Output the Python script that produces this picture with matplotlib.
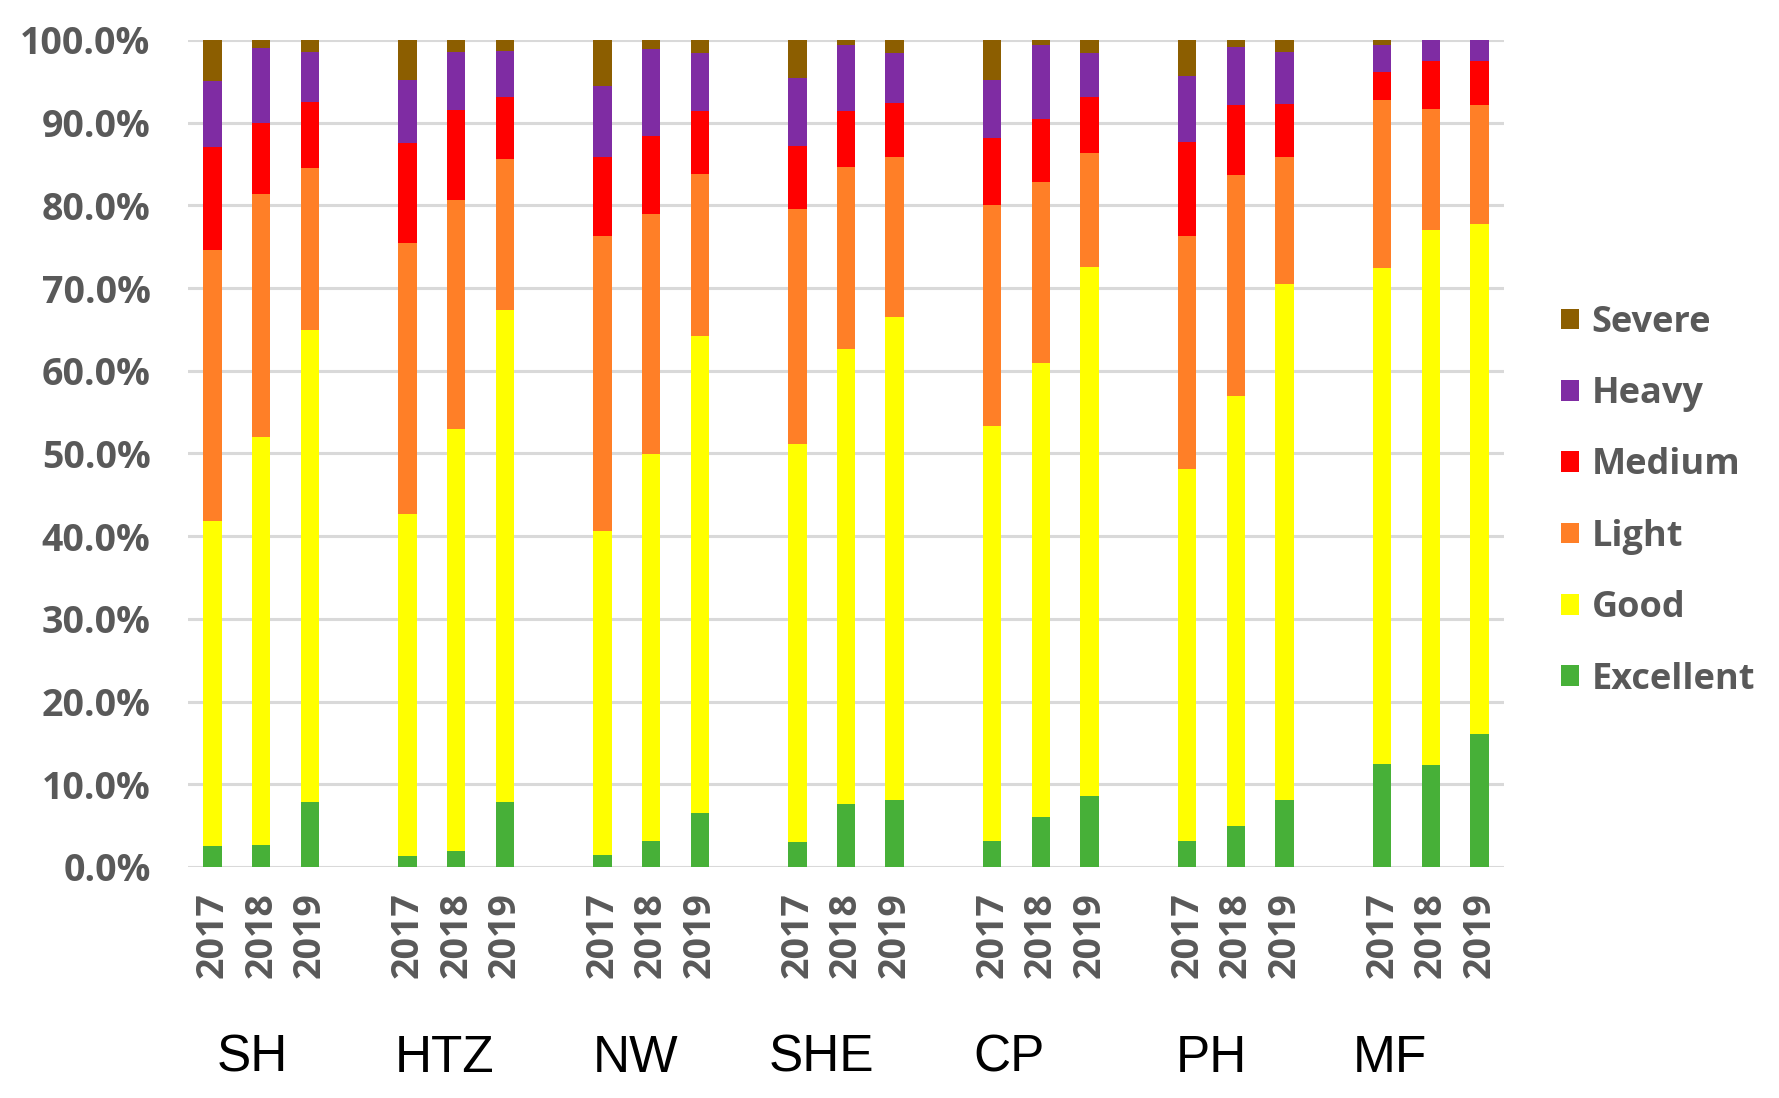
import matplotlib
matplotlib.use("Agg")
import matplotlib.pyplot as plt
from matplotlib.ticker import FuncFormatter, MultipleLocator
from matplotlib.patches import Patch

# ---- data (percent of days) ----
sites = ["SH", "HTZ", "NW", "SHE", "CP", "PH", "MF"]
years = ["2017", "2018", "2019"]
levels = ["Excellent", "Good", "Light", "Medium", "Heavy", "Severe"]

excellent = [2.5, 2.7, 7.8,  1.3, 1.9, 7.8,  1.5, 3.2, 6.5,  3.0, 7.6, 8.1,
             3.2, 6.0, 8.6,  3.2, 4.9, 8.1,  12.5, 12.3, 16.1]
good      = [39.3, 49.3, 57.1, 41.4, 51.0, 59.6, 39.1, 46.7, 57.7, 48.1, 55.0, 58.4,
             50.1, 54.9, 64.0, 44.9, 52.1, 62.4, 59.9, 64.7, 61.6]
light     = [32.8, 29.4, 19.6, 32.7, 27.8, 18.2, 35.7, 29.0, 19.6, 28.5, 22.0, 19.3,
             26.7, 21.9, 13.7, 28.2, 26.7, 15.3, 20.4, 14.6, 14.4]
medium    = [12.5, 8.5, 8.0,  12.1, 10.8, 7.5,  9.5, 9.5, 7.6,  7.6, 6.8, 6.6,
             8.2, 7.7, 6.8,  11.4, 8.4, 6.5,  3.3, 5.9, 5.4]
heavy     = [7.9, 9.1, 6.0,  7.7, 7.0, 5.6,  8.6, 10.5, 7.0,  8.2, 8.0, 6.0,
             7.0, 8.9, 5.3,  7.9, 7.0, 6.3,  3.3, 2.5, 2.5]
severe    = [5.0, 1.0, 1.5,  4.8, 1.5, 1.3,  5.6, 1.1, 1.6,  4.6, 0.6, 1.6,
             4.8, 0.6, 1.6,  4.4, 0.9, 1.4,  0.6, 0.0, 0.0]

series = [excellent, good, light, medium, heavy, severe]
colors = ["#47B038", "#FFFF00", "#FF7F27", "#FF0000", "#7F2CA3", "#8C5E00"]

# ---- layout ----
fig = plt.figure(figsize=(17.79, 10.98), dpi=100)
ax = fig.add_axes([0.1057, 0.2104, 0.8454 - 0.1057, 0.9636 - 0.2104])

xpos = []
xlabels = []
for g, s in enumerate(sites):
    for j, y in enumerate(years):
        xpos.append(g * 4 + j)
        xlabels.append(y)

bottom = [0.0] * len(xpos)
for vals, col, name in zip(series, colors, levels):
    ax.bar(xpos, vals, width=0.38, bottom=bottom, color=col, label=name,
           linewidth=0, zorder=3)
    bottom = [b + v for b, v in zip(bottom, vals)]

ax.set_xlim(-0.5, 26.5)
ax.set_ylim(0, 100)
ax.yaxis.set_major_locator(MultipleLocator(10))
ax.yaxis.set_major_formatter(FuncFormatter(lambda v, p: f"{v:.1f}%"))
ax.grid(axis="y", color="#D9D9D9", linewidth=2.2, zorder=0)
ax.set_axisbelow(True)
for sp in ax.spines.values():
    sp.set_visible(False)

ax.set_xticks(xpos)
ax.set_xticklabels(xlabels, rotation=90, va="top", ha="center")
ax.tick_params(axis="both", length=0)
ax.tick_params(axis="y", pad=27)
ax.tick_params(axis="x", pad=18)
for lab in ax.get_yticklabels() + ax.get_xticklabels():
    lab.set_fontfamily("Open Sans")
    lab.set_fontweight("bold")
    lab.set_fontsize(27)
    lab.set_color("#595959")

# group labels below the year labels
group_x = [0.142, 0.250, 0.357, 0.4615, 0.567, 0.681, 0.781]
for s, gx in zip(sites, group_x):
    fig.text(gx, 0.036, s, ha="center", va="center", fontsize=37,
             family="Liberation Sans", color="black")

# legend (top entry = Severe)
handles = [Patch(facecolor=c, edgecolor="none") for c in colors][::-1]
leg = fig.legend(handles, levels[::-1], loc="center left",
                 bbox_to_anchor=(0.8776, 0.5436), frameon=False, borderpad=0,
                 borderaxespad=0,
                 handlelength=0.5, handleheight=0.5, handletextpad=0.34,
                 labelspacing=0.98,
                 prop={"family": "Open Sans", "weight": "bold", "size": 26})
for t in leg.get_texts():
    t.set_color("#595959")

fig.savefig("out.png", dpi=100, facecolor="white")
